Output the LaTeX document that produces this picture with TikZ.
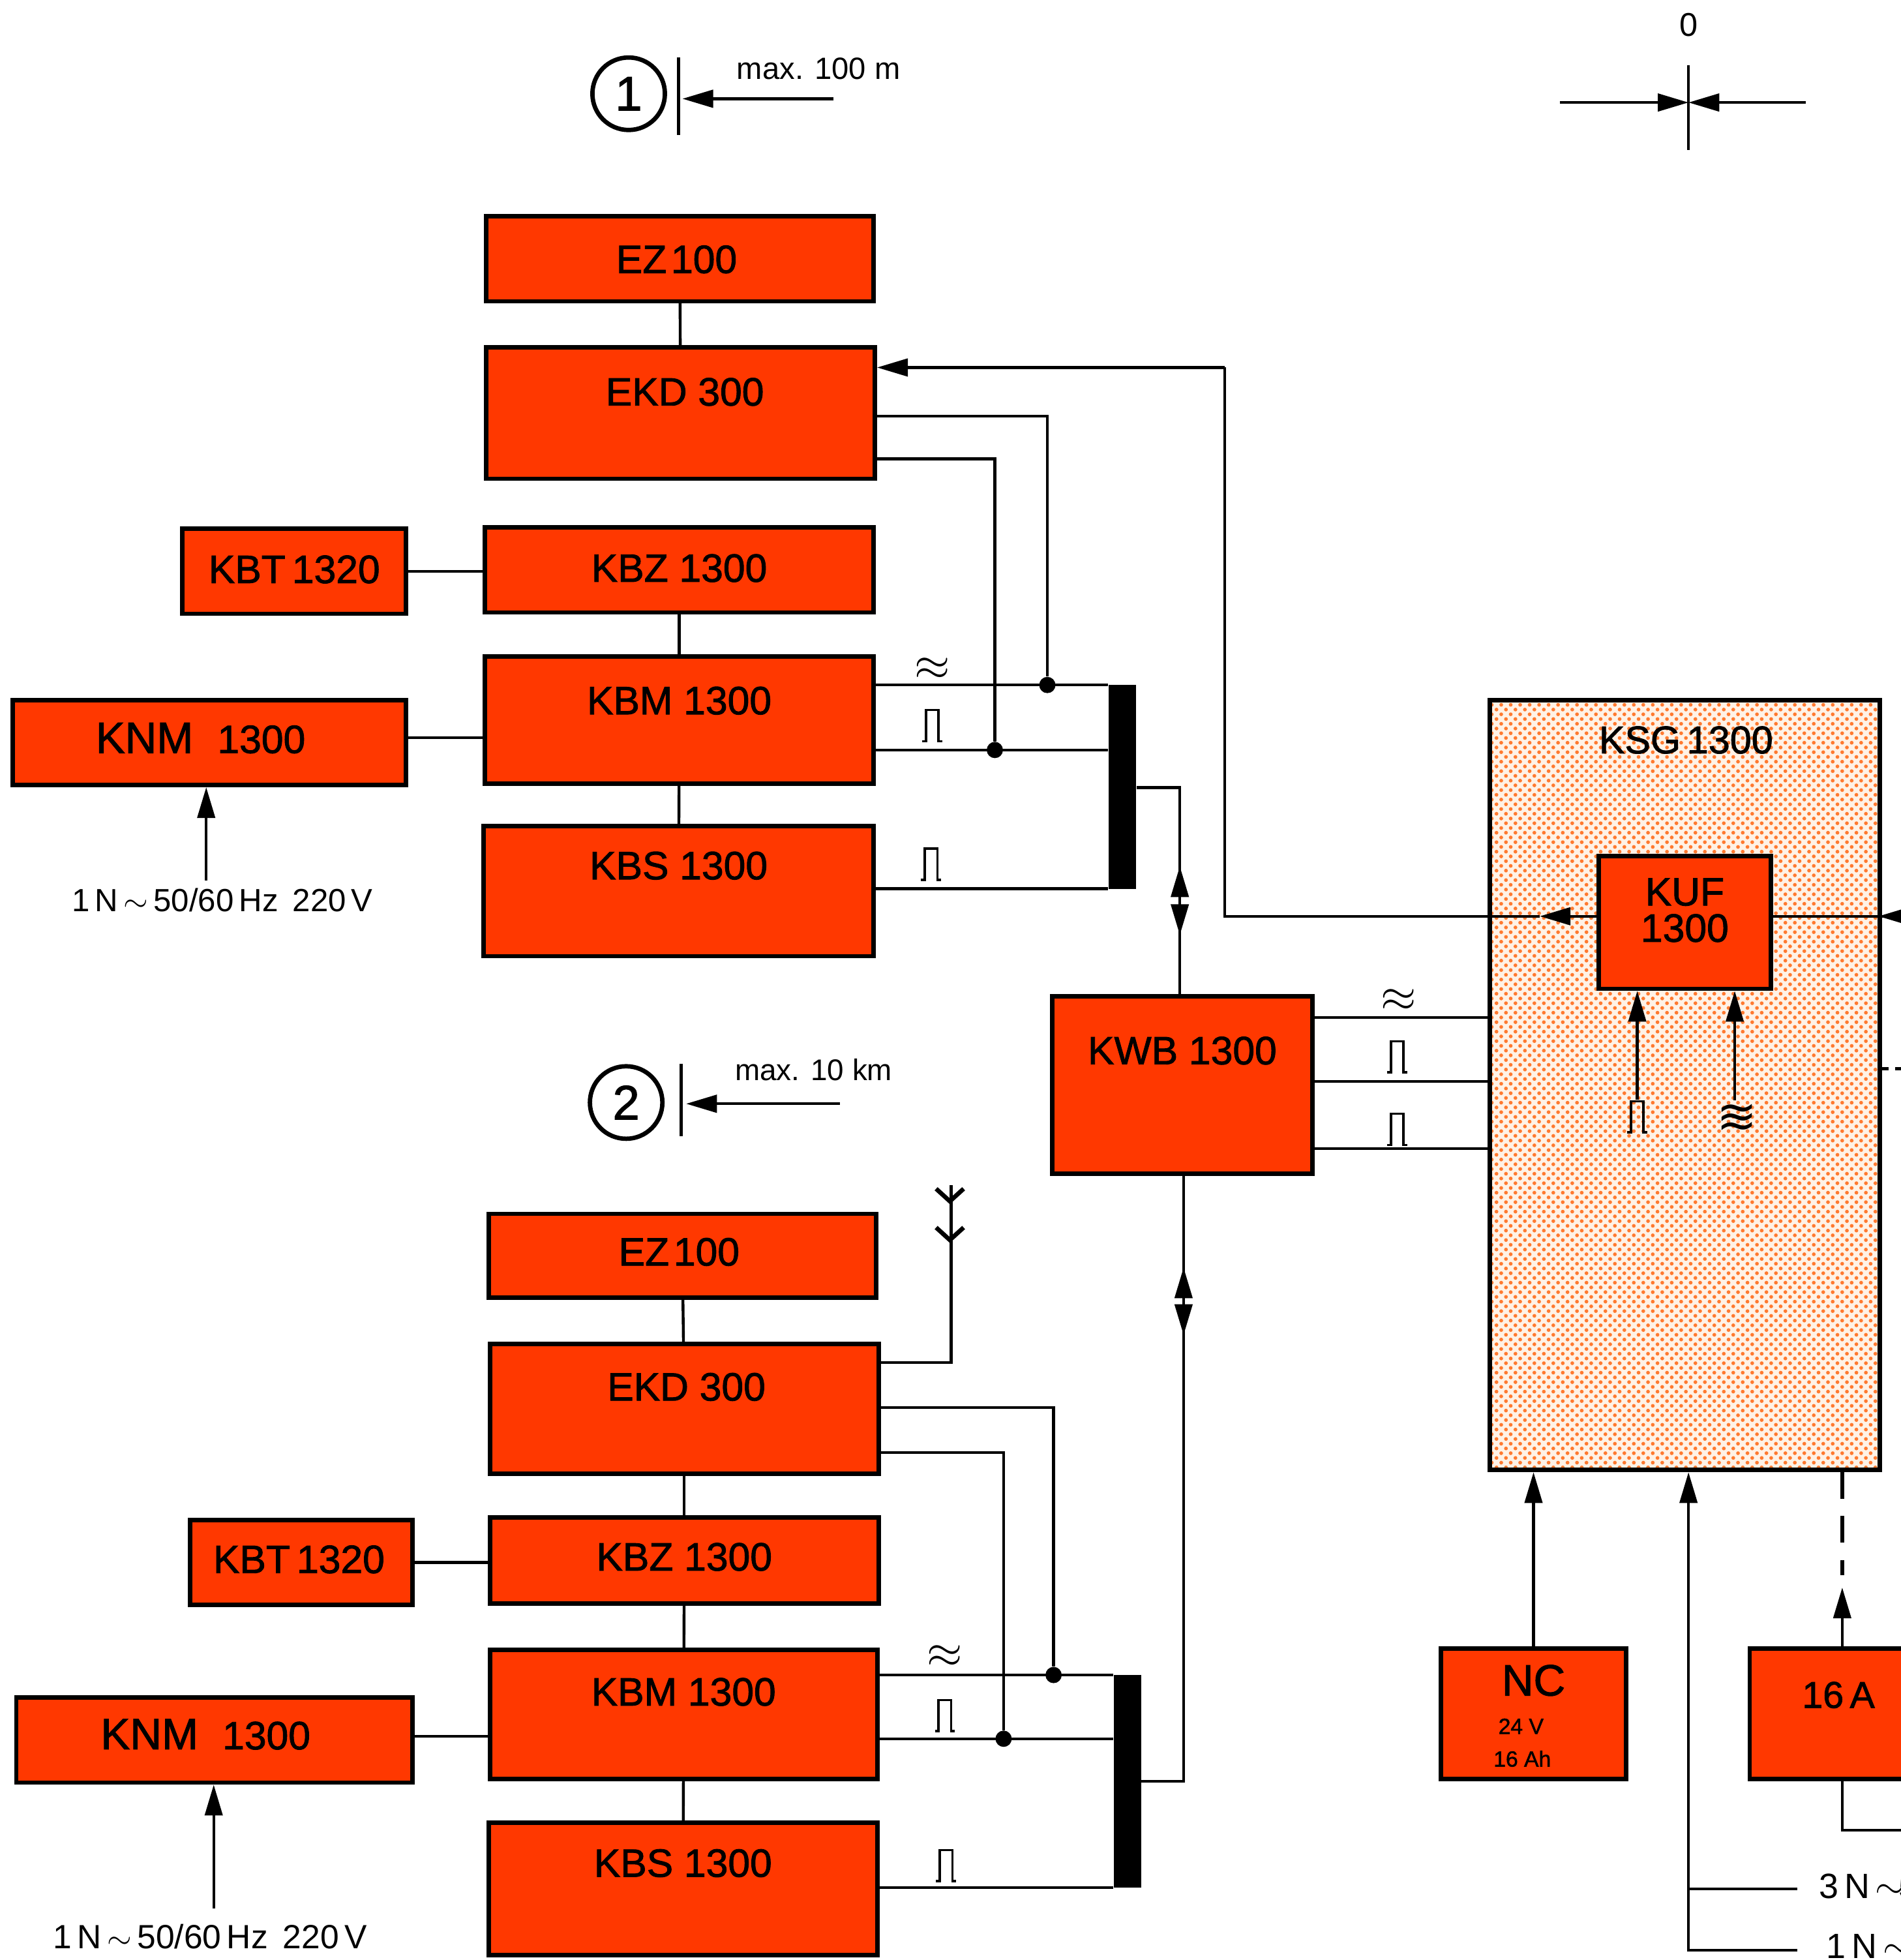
\documentclass[tikz,border=0pt]{standalone}
\usepackage{fontspec}
\setmainfont{Liberation Sans}
\newfontfamily\boxfont{Liberation Sans}[FakeBold=1.5]
\newfontfamily\symfont{DejaVu Sans}
\usetikzlibrary{arrows.meta,patterns.meta}

\definecolor{boxred}{HTML}{FF3800}
\definecolor{dotorange}{HTML}{FF7A30}
\definecolor{paleorange}{HTML}{FFF2E6}

\tikzset{
    >={Triangle[length=14pt,width=8pt]},
    conn/.style={line width=1.3pt},
    redbox/.style={draw, fill=boxred, line width=2pt, inner sep=0pt,
        font=\boxfont\fontsize{18}{18}\selectfont, align=center},
    sized/.style 2 args={minimum width=#1*0.02cm, minimum height=#2*0.02cm},
    raised/.style={text height=13pt, text depth=#1*0.02cm},
    barbox/.style={fill=black, inner sep=0pt},
    note/.style={font=\fontsize{14}{14}\selectfont, inner sep=0pt},
    dot/.style={circle, fill=black, inner sep=0pt, minimum size=13*0.02cm},
    roundmark/.style={draw, circle, line width=2pt, minimum size=58*0.02cm,
        inner sep=0pt, font=\boxfont\fontsize{22}{22}\selectfont},
    pulse/.pic={\draw[line width=1.1pt] (-8,13) -- (-5,13) -- (-5,-12) -- (5,-12) -- (5,13) -- (8,13);},
    wave/.style={font=\symfont\fontsize{21}{21}\selectfont, inner sep=0pt}
}

\newcommand{\knmtext}{{\fontsize{20}{20}\selectfont KNM}\,\, 1300\hspace{8pt}}

\begin{document}
\begin{tikzpicture}[x=0.02cm, y=-0.02cm]
    \useasboundingbox (0,0) rectangle (1521,1568);
    \clip (0,0) rectangle (1521,1568);

    % Section marks
    \node[roundmark] (markA) at (503,75) {1};
    \coordinate (stopA) at (546,79);
    \draw[conn] (543,46) -- (543,108);
    \coordinate (startA) at (667,79);
    \draw[conn, ->] (startA) -- (stopA);
    \node[note] (rangeA) at (655,55) {max. 100 m};

    \node[roundmark] (markB) at (501,882) {2};
    \coordinate (stopB) at (549,883);
    \draw[conn] (545,851) -- (545,909);
    \coordinate (startB) at (672,883);
    \draw[conn, ->] (startB) -- (stopB);
    \node[note, font=\fontsize{13.6}{14}\selectfont] (rangeB) at (651,856) {max. 10 km};

    % Zero mark
    \node[note, font=\fontsize{15}{15}\selectfont] (zero) at (1351,20) {0};
    \coordinate (zeroP) at (1351,82);
    \coordinate (zeroL) at (1248,82);
    \coordinate (zeroR) at (1445,82);
    \draw[conn] (1351,52) -- (1351,120);
    \draw[conn, ->] (zeroL) -- (zeroP);
    \draw[conn, ->] (zeroR) -- (zeroP);

    % Upper stack
    \node[redbox, sized={310}{68}, raised=0] (ezA) at (544,207) {EZ\,\kern-1pt100\kern3pt};
    \node[redbox, sized={311}{105}, raised=35] (ekdA) at (544.5,330.5) {\kern4pt EKD 300};
    \node[redbox, sized={311}{68}, raised=4] (kbzA) at (543.5,456) {KBZ 1300};
    \node[redbox, sized={311}{102}, raised=32] (kbmA) at (543.5,576) {KBM 1300};
    \node[redbox, sized={312}{104}, raised=42] (kbsA) at (543,713) {KBS 1300};
    \node[redbox, sized={179}{68}, raised=4] (kbtA) at (235.5,457) {KBT\,1320};
    \node[redbox, sized={315}{68}, raised=6] (knmA) at (167.5,594) {\knmtext};
    \node[barbox, minimum width=22*0.02cm, minimum height=163*0.02cm] (barA) at (898,629.5) {};

    % Upper connectors
    \draw[conn] (ezA) -- (ekdA);
    \draw[conn] (kbzA) -- (kbmA);
    \draw[conn] (kbmA) -- (kbsA);
    \draw[conn] (kbtA.east |- 0,457) -- (kbzA.west |- 0,457);
    \draw[conn] (knmA.east |- 0,590) -- (kbmA.west |- 0,590);
    \node[dot] (tapA1) at (838,548) {};
    \node[dot] (tapA2) at (796,600) {};
    \draw[conn] (kbmA.east |- tapA1) -- (barA.west |- tapA1);
    \draw[conn] (kbmA.east |- tapA2) -- (barA.west |- tapA2);
    \draw[conn] (kbsA.east |- 0,711) -- (barA.west |- 0,711);
    \draw[conn] (ekdA.east |- 0,333) -- (tapA1 |- 0,333) -- (tapA1);
    \draw[conn] (ekdA.east |- 0,367) -- (tapA2 |- 0,367) -- (tapA2);
    \node[wave] (waveA1) at (746,535) {$\approx$};
    \pic at (746,580) {pulse};
    \pic at (745,691) {pulse};

    % Supply upper
    \node[note, font=\fontsize{14.6}{15}\selectfont] (mainsA) at (178,720) {1\,N\,$\sim$\,50/60\,Hz\, 220\,V};
    \draw[conn, ->] (mainsA.north -| 165,0) ++(0,-6) -- (knmA.south -| 165,0);

    % Lower stack
    \node[redbox, sized={310}{67}, raised=7] (ezB) at (546,1004.5) {EZ\,\kern-1pt100\kern3pt};
    \node[redbox, sized={311}{104}, raised=36] (ekdB) at (547.5,1127) {\kern2pt EKD 300};
    \node[redbox, sized={311}{69}, raised=7] (kbzB) at (547.5,1248.5) {KBZ 1300};
    \node[redbox, sized={310}{103}, raised=37] (kbmB) at (547,1371.5) {KBM 1300};
    \node[redbox, sized={311}{106}, raised=42] (kbsB) at (546.5,1511) {KBS 1300};
    \node[redbox, sized={178}{68}, raised=6] (kbtB) at (241,1250) {KBT\,1320\kern2pt};
    \node[redbox, sized={317}{68}, raised=8] (knmB) at (171.5,1392) {\knmtext};
    \node[barbox, minimum width=22*0.02cm, minimum height=170*0.02cm] (barB) at (902,1425) {};

    % Lower connectors
    \draw[conn] (ezB) -- (ekdB);
    \draw[conn] (ekdB) -- (kbzB);
    \draw[conn] (kbzB) -- (kbmB);
    \draw[conn] (kbmB) -- (kbsB);
    \draw[conn] (kbtB.east |- 0,1250) -- (kbzB.west |- 0,1250);
    \draw[conn] (knmB.east |- 0,1389) -- (kbmB.west |- 0,1389);
    \node[dot] (tapB1) at (843,1340) {};
    \node[dot] (tapB2) at (803,1391) {};
    \draw[conn] (kbmB.east |- tapB1) -- (barB.west |- tapB1);
    \draw[conn] (kbmB.east |- tapB2) -- (barB.west |- tapB2);
    \draw[conn] (kbsB.east |- 0,1510) -- (barB.west |- 0,1510);
    \draw[conn] (ekdB.east |- 0,1126) -- (tapB1 |- 0,1126) -- (tapB1);
    \draw[conn] (ekdB.east |- 0,1162) -- (tapB2 |- 0,1162) -- (tapB2);
    \node[wave] (waveB1) at (756,1325) {$\approx$};
    \pic at (756,1372) {pulse};
    \pic at (757,1492) {pulse};

    % Antenna
    \coordinate (aerial) at (761,948);
    \draw[conn] (ekdB.east |- 0,1090) -- (aerial |- 0,1090) -- (aerial);
    \draw[line width=2pt] (749,951) -- (760,961) -- (771,951);
    \draw[line width=2pt] (749,982) -- (760,992) -- (771,982);

    % Supply lower
    \node[note, font=\fontsize{15.3}{16}\selectfont] (mainsB) at (168,1549) {1\,N\,$\sim$\,50/60\,Hz\, 220\,V};
    \draw[conn, ->] (mainsB.north -| 171,0) ++(0,-12) -- (knmB.south -| 171,0);

    % KSG with KUF
    \node[draw, line width=2pt, preaction={fill=paleorange},
        pattern={Dots[radius=0.85pt, distance=3.05pt, angle=45]}, pattern color=dotorange,
        sized={312}{616}] (ksg) at (1348,868) {};
    \node[font=\boxfont\fontsize{17.6}{18}\selectfont, inner sep=0pt] (ksgname) at (1349,592) {KSG\,1300};
    \node[redbox, sized={138}{106}, text depth=20*0.02cm, font=\boxfont\fontsize{18}{16.5}\selectfont] (kuf) at (1348,738) {KUF\\1300};

    % KWB
    \node[redbox, sized={208}{142}, raised=56] (kwb) at (946,868) {KWB 1300};
    \draw[conn] (kwb.east |- 0,814) -- (ksg.west |- 0,814);
    \draw[conn] (kwb.east |- 0,865) -- (ksg.west |- 0,865);
    \draw[conn] (kwb.east |- 0,919) -- (ksg.west |- 0,919);
    \node[wave] (waveK) at (1119,800) {$\approx$};
    \pic at (1118,845) {pulse};
    \pic at (1118,903) {pulse};

    % Bars to KWB
    \coordinate (busA) at (944,630);
    \draw[conn] (barA.east |- busA) -- (busA) -- (kwb.north -| busA);
    \draw[conn, ->] (944,724) -- (944,693);
    \draw[conn, ->] (944,724) -- (944,748);
    \coordinate (busB) at (947,1425);
    \draw[conn] (barB.east |- busB) -- (busB) -- (kwb.south -| busB);
    \draw[conn, ->] (947,1041) -- (947,1014);
    \draw[conn, ->] (947,1041) -- (947,1068);

    % KUF connections
    \coordinate (backbone) at (980,733);
    \coordinate (feed) at (1521,733);
    \draw[conn, ->] (kuf.west |- backbone) -- (1232,733);
    \draw[conn] (1232,733) -- (backbone) -- (backbone |- 0,294);
    \draw[conn, ->] (backbone |- 0,294) -- (ekdA.east |- 0,294);
    \draw[conn] (kuf.east |- feed) -- (feed);
    \draw[conn, ->] (1530,733) -- (1503,733);
    \node[inner sep=0pt] (pulseIn) at (1310,893) {};
    \pic at (1310,893) {pulse};
    \draw[conn, ->] (pulseIn.north) ++(0,-12) -- (kuf.south -| 1310,0);
    \node[wave, font=\symfont\fontsize{22}{22}\selectfont] (waveIn) at (1390,895) {≋};
    \draw[conn, ->] (1388,880) -- (kuf.south -| 1388,0);
    \draw[conn, dashed] (ksg.east |- 0,855) -- (1521,855);

    % Power section
    \node[redbox, sized={148}{104}, raised=52, font=\boxfont\fontsize{20}{20}\selectfont] (nc) at (1227,1371) {NC};
    \node[font=\boxfont\fontsize{10}{10}\selectfont, inner sep=0pt] (ncV) at (1217,1381) {24 V};
    \node[font=\boxfont\fontsize{10}{10}\selectfont, inner sep=0pt] (ncA) at (1218,1407) {16 Ah};
    \draw[conn, ->] (nc.north) -- (ksg.south -| nc.north);

    \node[redbox, sized={180}{104}] (fuse) at (1490,1371) {};
    \node[font=\boxfont\fontsize{17}{17}\selectfont, inner sep=0pt] (fusetext) at (1471,1356) {16\,A};
    \coordinate (fuseUp) at (1474,1270);
    \draw[conn, ->] (fuse.north -| fuseUp) -- (fuseUp);
    \draw[line width=1.6pt, dash pattern=on 12pt off 8pt] (ksg.south -| fuseUp) -- (1474,1260);
    \draw[conn] (fuse.south -| fuseUp) -- (1474,1464) -- (1521,1464);

    \coordinate (mainsT) at (1351,1511);
    \coordinate (mainsS) at (1351,1560);
    \node[note, anchor=west, font=\fontsize{16}{16}\selectfont] (threeph) at (1455,1509) {3\,N\,$\sim$\hspace{-3pt}50};
    \node[note, anchor=west, font=\fontsize{16}{16}\selectfont] (oneph) at (1461,1557) {1\,N\,$\sim$\hspace{-3pt}50};
    \draw[conn, ->] (mainsS -| 1438,0) -- (mainsS) -- (ksg.south -| mainsS);
    \draw[conn] (mainsT) -- (1438,1511);
\end{tikzpicture}
\end{document}
